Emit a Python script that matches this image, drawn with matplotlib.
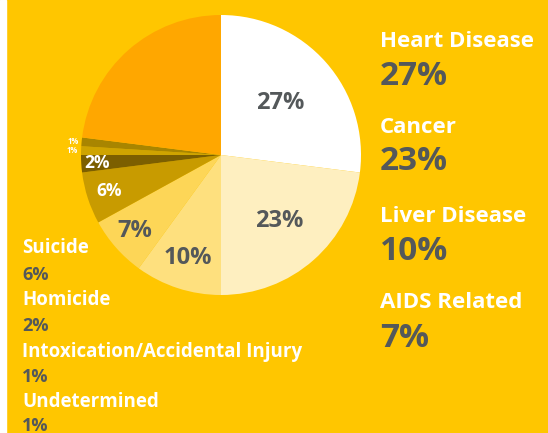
import matplotlib
matplotlib.use("Agg")
import numpy as np
import matplotlib.pyplot as plt
from matplotlib.patches import Rectangle

# slices clockwise from 12 o'clock
causes = ['Heart Disease', 'Cancer', 'Liver Disease', 'AIDS Related', 'Suicide',
          'Homicide', 'Intoxication/Accidental Injury', 'Undetermined', 'Other']
shares = [27, 23, 10, 7, 6, 2, 1, 1, 23]
colors = ['#FFFFFF', '#FEEFC0', '#FEE07E', '#FDD657', '#C89B00',
          '#7C5F00', '#CFA400', '#A88500', '#FFA700']

# label styling per slice: radius fraction, size, color (None = no label)
lab_r = [0.56, 0.63, 0.77, 0.82, 0.84, 0.89, 1.06, 1.06, None]
lab_size = [17, 17, 17, 17, 12.5, 12.5, 5.5, 5.5, 0]
lab_col = ['#54585A'] * 4 + ['white'] * 4 + [None]

right_items = ['Heart Disease', 'Cancer', 'Liver Disease', 'AIDS Related']
right_vals = ['27%', '23%', '10%', '7%']
left_items = ['Suicide', 'Homicide', 'Intoxication/Accidental Injury', 'Undetermined']
left_vals = ['6%', '2%', '1%', '1%']

bg = '#FFC600'
grey = '#54585A'
plt.rcParams['font.family'] = ['Open Sans', 'DejaVu Sans']

W, H = 548, 433
fig = plt.figure(figsize=(W / 100, H / 100), dpi=100, facecolor=bg)
fig.patches.append(Rectangle((0, 0), 6 / W, 1, transform=fig.transFigure,
                             color='white', zorder=0))

cx, cy, R = 221, 155, 140
ax = fig.add_axes([(cx - R) / W, 1 - (cy + R) / H, 2 * R / W, 2 * R / H])
ax.set_facecolor('none')
wedges, _ = ax.pie(shares, colors=colors, startangle=90, counterclock=False,
                   radius=1, wedgeprops=dict(linewidth=0))
ax.set_xlim(-1, 1)
ax.set_ylim(-1, 1)
ax.set_aspect('auto')
ax.axis('off')

for w, s, r, fs, c in zip(wedges, shares, lab_r, lab_size, lab_col):
    if r is None:
        continue
    mid = np.deg2rad((w.theta1 + w.theta2) / 2)
    ax.text(r * np.cos(mid), r * np.sin(mid), f'{s}%', ha='center', va='center',
            fontsize=fs, fontweight='bold', color=c)

# right side legend
x_r = 380 / W
name_y = [47, 133, 222, 308]
val_y = [85, 170, 260, 347]
for name, val, ny, vy in zip(right_items, right_vals, name_y, val_y):
    fig.text(x_r, 1 - ny / H, name, fontsize=16, fontweight='bold', color='white',
             va='baseline', ha='left')
    fig.text(x_r, 1 - vy / H, val, fontsize=24, fontweight='bold', color=grey,
             va='baseline', ha='left')

# left side legend
x_l = 22 / W
name_y = [253, 305, 357, 407]
val_y = [280, 331, 382, 431]
for name, val, ny, vy in zip(left_items, left_vals, name_y, val_y):
    fig.text(x_l, 1 - ny / H, name, fontsize=13.5, fontweight='bold', color='white',
             va='baseline', ha='left')
    fig.text(x_l, 1 - vy / H, val, fontsize=13, fontweight='bold', color=grey,
             va='baseline', ha='left')

fig.savefig('out.png', dpi=100, facecolor=bg)
